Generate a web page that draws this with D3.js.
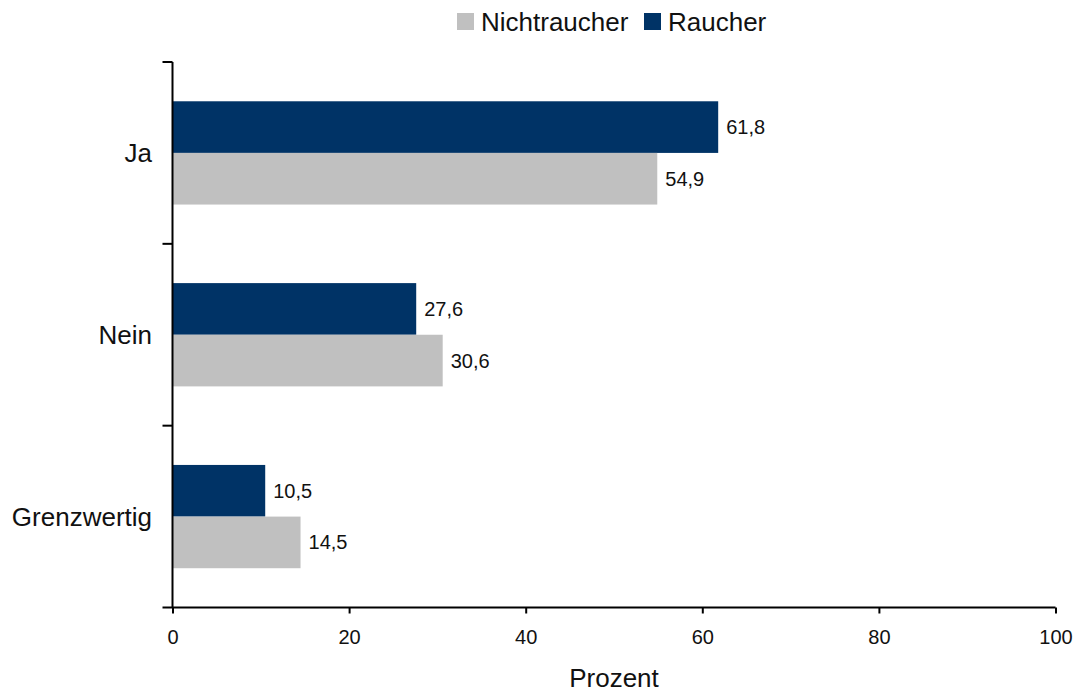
<!DOCTYPE html>
<html><head><meta charset="utf-8">
<script src="https://cdn.jsdelivr.net/npm/d3@7"></script>
<style>body{margin:0;background:#fff}svg{display:block;font-family:"Liberation Sans",Arial,Helvetica,sans-serif}</style>
</head><body><svg id="c" width="1077" height="693"></svg>
<script>
const categories = ["Ja", "Nein", "Grenzwertig"];
const series = ["Raucher", "Nichtraucher"];
const raucher = [61.8, 27.6, 10.5];
const nichtraucher = [54.9, 30.6, 14.5];
const xTicks = [0, 20, 40, 60, 80, 100];
const legendOrder = ["Nichtraucher", "Raucher"];
const colors = {Raucher: "#003366", Nichtraucher: "#c0c0c0"};

(function(){
const svg = d3.select("#c");
const pL = 172.5, pR = 1055.5, pT = 62, pB = 607.5;
const x = d3.scaleLinear().domain([0, 100]).range([pL, pR]);
const y = d3.scaleBand().domain(categories).range([pT, pB]).paddingInner(0.432).paddingOuter(0.216);
const y2 = d3.scaleBand().domain(series).range([0, y.bandwidth()]);
const fmt = v => d3.format(".1f")(v).replace(".", ",");

const data = categories.map((c, i) => ({c, Raucher: raucher[i], Nichtraucher: nichtraucher[i]}));
const g = svg.append("g");
data.forEach(d => {
  series.forEach(s => {
    g.append("rect").attr("x", x(0)).attr("y", y(d.c) + y2(s))
      .attr("width", x(d[s]) - x(0)).attr("height", y2.bandwidth()).attr("fill", colors[s]);
    g.append("text").attr("x", x(d[s]) + 8).attr("y", y(d.c) + y2(s) + y2.bandwidth() / 2)
      .attr("dy", "0.35em").attr("font-size", 20).attr("fill", "#111").text(fmt(d[s]));
  });
});

const xa = svg.append("g").attr("transform", `translate(0,${pB})`)
  .call(d3.axisBottom(x).tickValues(xTicks).tickSize(6).tickPadding(16));
xa.select(".domain").attr("d", `M${pL - 10},0H${pR}`).attr("stroke", "#000").attr("stroke-width", 2);
xa.selectAll(".tick line").attr("stroke", "#000").attr("stroke-width", 2);
xa.selectAll("text").attr("font-size", 20).attr("fill", "#111").attr("font-family", "Liberation Sans, Arial, sans-serif");

const ya = svg.append("g");
ya.append("line").attr("x1", pL).attr("x2", pL).attr("y1", pT).attr("y2", pB)
  .attr("stroke", "#000").attr("stroke-width", 2);
const boundaries = d3.range(categories.length).map(i => pT + i * (pB - pT) / categories.length);
boundaries.forEach(b => {
  ya.append("line").attr("x1", pL - 10).attr("x2", pL).attr("y1", b).attr("y2", b)
    .attr("stroke", "#000").attr("stroke-width", 2);
});
categories.forEach(c => {
  ya.append("text").attr("x", pL - 20.5).attr("y", y(c) + y.bandwidth() / 2)
    .attr("dy", "0.35em").attr("text-anchor", "end").attr("font-size", 26).attr("fill", "#111").text(c);
});

svg.append("text").attr("x", (pL + pR) / 2).attr("y", 687).attr("text-anchor", "middle")
  .attr("font-size", 26).attr("fill", "#111").text("Prozent");

const lg = svg.append("g");
const legX = [457, 644];
legendOrder.forEach((s, i) => {
  lg.append("rect").attr("x", legX[i]).attr("y", 13).attr("width", 17).attr("height", 17).attr("fill", colors[s]);
  lg.append("text").attr("x", legX[i] + 24).attr("y", 22).attr("dy", "0.35em")
    .attr("font-size", 26).attr("fill", "#111").text(s);
});
})();
</script></body></html>
